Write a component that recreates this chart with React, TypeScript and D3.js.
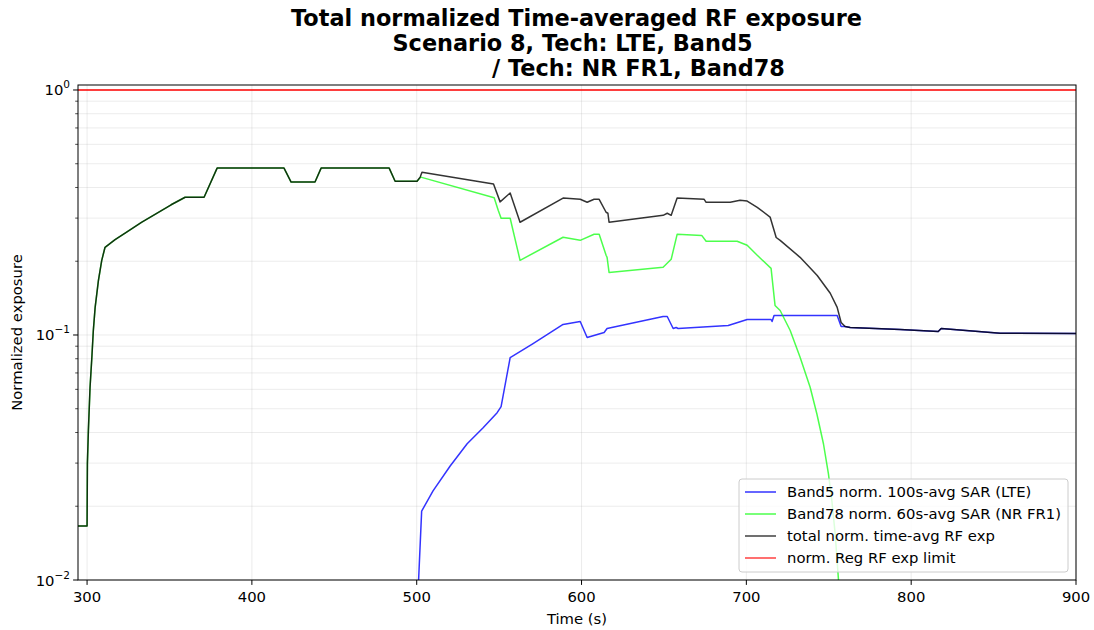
import * as d3 from "d3"

const W = 1094
const H = 630
const plot = { left: 78, right: 1076, top: 85, bottom: 580 }

const titleLines = [
  "Total normalized Time-averaged RF exposure",
  "Scenario 8, Tech: LTE, Band5",
  "/ Tech: NR FR1, Band78",
]

const xTicks = [300, 400, 500, 600, 700, 800, 900]
const yMajor = [0.01, 0.1, 1]
const regLimit = 1

// Band5 LTE, 100s-avg SAR
const lteTime = [500.5, 503.0, 509.9, 520.3, 530.6, 540.3, 548.8, 551.2, 556.7, 570.6, 588.8, 599.2, 603.4, 613.7, 615.5, 649.5, 652.0, 655.6, 657.4, 658.6, 689.0, 700.5, 715.0, 715.6, 716.8, 755.1, 757.5, 759.9, 763.0, 793.3, 816.4, 818.2, 854.0, 900]
const lteSar = [0.008, 0.0191, 0.0231, 0.0292, 0.036, 0.0418, 0.0482, 0.051, 0.0809, 0.0923, 0.1104, 0.1135, 0.0977, 0.1024, 0.1063, 0.119, 0.119, 0.1063, 0.1073, 0.1063, 0.1093, 0.1157, 0.1157, 0.1135, 0.1202, 0.1202, 0.1083, 0.1083, 0.1073, 0.1053, 0.1033, 0.1063, 0.1016, 0.1014]

// Band78 NR FR1, 60s-avg SAR
const nrTime = [294.5, 300, 300.2, 300.8, 301.8, 302.9, 303.8, 304.9, 306.9, 308.9, 310.9, 317, 324, 333, 342, 351, 359.5, 371, 378.9, 419.5, 423.8, 438.3, 442, 483.3, 486.9, 500.2, 502.5, 547, 549.5, 551.2, 556.7, 562.7, 588.8, 599.2, 607.6, 610.7, 614.9, 615.5, 616.7, 649.5, 654.4, 658.0, 672.9, 675.6, 694.4, 700.5, 706.6, 715.0, 717.4, 720.5, 726.6, 732.6, 738.7, 742.8, 746.8, 749.8, 751.9, 753.9, 755.9, 757.5]
const nrSar = [0.01663, 0.01663, 0.0298, 0.0407, 0.061, 0.0809, 0.1043, 0.1296, 0.167, 0.2017, 0.228, 0.245, 0.263, 0.288, 0.313, 0.34, 0.365, 0.365, 0.48, 0.48, 0.421, 0.421, 0.48, 0.48, 0.424, 0.424, 0.441, 0.363, 0.3225, 0.2996, 0.2996, 0.2017, 0.2505, 0.2434, 0.2576, 0.2576, 0.2115, 0.2075, 0.18, 0.1889, 0.2037, 0.2576, 0.255, 0.2412, 0.2412, 0.2323, 0.2115, 0.187, 0.132, 0.1259, 0.1043, 0.0811, 0.0612, 0.0476, 0.0359, 0.0271, 0.021, 0.0154, 0.01, 0.008]

// total normalized time-avg RF exposure
const totalTime = [294.5, 300, 300.2, 300.8, 301.8, 302.9, 303.8, 304.9, 306.9, 308.9, 310.9, 317, 324, 333, 342, 351, 359.5, 371, 378.9, 419.5, 423.8, 438.3, 442, 483.3, 486.9, 500.2, 502.1, 503.2, 546.6, 550.6, 556.7, 562.7, 588.8, 599.2, 603.4, 607.6, 610.7, 614.9, 616.0, 616.7, 649.5, 652.0, 654.4, 658.0, 674.4, 675.6, 690.2, 696.2, 700.5, 706.6, 714.4, 718.1, 720.5, 732.6, 743.0, 750.9, 755.1, 757.5, 759.9, 763.0, 793.3, 816.4, 818.2, 854.0, 900]
const totalExp = [0.01663, 0.01663, 0.0298, 0.0407, 0.061, 0.0809, 0.1043, 0.1296, 0.167, 0.2017, 0.228, 0.245, 0.263, 0.288, 0.313, 0.34, 0.365, 0.365, 0.48, 0.48, 0.421, 0.421, 0.48, 0.48, 0.424, 0.424, 0.441, 0.462, 0.413, 0.3494, 0.38, 0.2885, 0.362, 0.358, 0.348, 0.358, 0.358, 0.317, 0.314, 0.2885, 0.308, 0.314, 0.308, 0.362, 0.358, 0.348, 0.348, 0.355, 0.352, 0.332, 0.303, 0.25, 0.2434, 0.2075, 0.175, 0.148, 0.1296, 0.1125, 0.1083, 0.1073, 0.1053, 0.1033, 0.1063, 0.1016, 0.1014]

const legendItems = [
  { label: "Band5 norm. 100s-avg SAR (LTE)", color: "blue", opacity: 0.8 },
  { label: "Band78 norm. 60s-avg SAR (NR FR1)", color: "lime", opacity: 0.7 },
  { label: "total norm. time-avg RF exp", color: "black", opacity: 0.75 },
  { label: "norm. Reg RF exp limit", color: "red", opacity: 0.75 },
]

const font = "DejaVu Sans, sans-serif"
const fs = 14.8

export default function App() {
  const x = d3.scaleLinear().domain([294.5, 900]).range([plot.left, plot.right])
  const y = d3.scaleLog().domain([0.01, 1.048]).range([plot.bottom, plot.top])

  const line = (ts: number[], vs: number[]) =>
    d3
      .line<number>()
      .x((_, i) => x(ts[i]))
      .y((v) => y(v))(vs) || ""

  const minor: number[] = []
  ;[0.01, 0.1].forEach((base) => {
    for (let k = 2; k <= 9; k++) minor.push(base * k)
  })

  return (
    <div style={{ position: "absolute", left: 0, top: 0 }}>
      <svg width={W} height={H} style={{ display: "block", background: "white" }} fontFamily={font}>
        <defs>
          <clipPath id="plotClip">
            <rect x={plot.left} y={plot.top} width={plot.right - plot.left} height={plot.bottom - plot.top} />
          </clipPath>
        </defs>

        {/* title */}
        <g fontWeight="bold" fontSize={22.4} fill="black">
          <text x={576.5} y={26} textAnchor="middle">{titleLines[0]}</text>
          <text x={572.5} y={51} textAnchor="middle">{titleLines[1]}</text>
          <text x={638.5} y={76} textAnchor="middle">{titleLines[2]}</text>
        </g>

        {/* grid */}
        <g stroke="#b0b0b0" strokeOpacity={0.3} strokeWidth={0.8}>
          {xTicks.map((t) => (
            <line key={"gx" + t} x1={x(t)} x2={x(t)} y1={plot.top} y2={plot.bottom} />
          ))}
          {yMajor.concat(minor).map((v) => (
            <line key={"gy" + v} x1={plot.left} x2={plot.right} y1={y(v)} y2={y(v)} />
          ))}
        </g>

        {/* series */}
        <g clipPath="url(#plotClip)" fill="none" strokeLinejoin="round">
          <path d={line(lteTime, lteSar)} stroke="blue" strokeOpacity={0.8} strokeWidth={1.5} />
          <path d={line(nrTime, nrSar)} stroke="lime" strokeOpacity={0.7} strokeWidth={1.5} />
          <path d={line(totalTime, totalExp)} stroke="black" strokeOpacity={0.8} strokeWidth={1.5} />
          <line x1={plot.left} x2={plot.right} y1={y(regLimit)} y2={y(regLimit)} stroke="red" strokeOpacity={0.75} strokeWidth={1.8} />
        </g>

        {/* frame */}
        <rect x={plot.left} y={plot.top} width={plot.right - plot.left} height={plot.bottom - plot.top} fill="none" stroke="black" strokeWidth={1} />

        {/* x axis */}
        <g fontSize={fs} fill="black">
          {xTicks.map((t) => (
            <g key={"xt" + t}>
              <line x1={x(t)} x2={x(t)} y1={plot.bottom} y2={plot.bottom + 4.9} stroke="black" strokeWidth={1} />
              <text x={x(t)} y={plot.bottom + 21.5} textAnchor="middle">{t}</text>
            </g>
          ))}
          <text x={(plot.left + plot.right) / 2} y={623.5} textAnchor="middle">Time (s)</text>
        </g>

        {/* y axis */}
        <g fontSize={fs} fill="black">
          {yMajor.map((v) => (
            <g key={"yt" + v}>
              <line x1={plot.left - 4.9} x2={plot.left} y1={y(v)} y2={y(v)} stroke="black" strokeWidth={1} />
              <text x={plot.left - 8} y={y(v) + 5.5} textAnchor="end">
                10
                <tspan dy={-7} fontSize={10.5}>{Math.round(Math.log10(v)) === 0 ? "0" : "\u2212" + Math.abs(Math.round(Math.log10(v)))}</tspan>
              </text>
            </g>
          ))}
          {minor.map((v) => (
            <line key={"ym" + v} x1={plot.left - 2.8} x2={plot.left} y1={y(v)} y2={y(v)} stroke="black" strokeWidth={0.7} />
          ))}
          <text transform={`translate(22,${(plot.top + plot.bottom) / 2}) rotate(-90)`} textAnchor="middle">
            Normalized exposure
          </text>
        </g>

        {/* legend */}
        <g fontSize={fs}>
          <rect x={739} y={479} width={329} height={93} rx={3} fill="white" fillOpacity={0.8} stroke="#cccccc" strokeWidth={1} />
          {legendItems.map((d, i) => (
            <g key={d.label} transform={`translate(0,${492 + i * 22})`}>
              <line x1={745} x2={776} y1={0} y2={0} stroke={d.color} strokeOpacity={d.opacity} strokeWidth={1.5} />
              <text x={787} y={5.2} fill="black">{d.label}</text>
            </g>
          ))}
        </g>
      </svg>
    </div>
  )
}
